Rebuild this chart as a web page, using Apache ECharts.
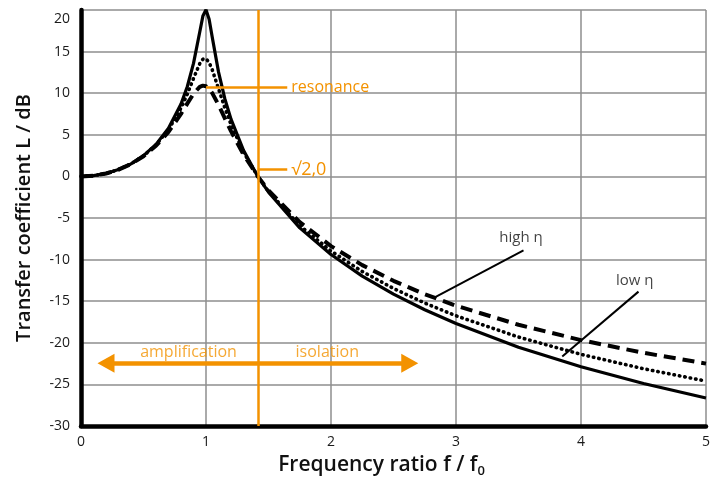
<!DOCTYPE html>
<html>
<head>
<meta charset="utf-8">
<script src="https://cdn.jsdelivr.net/npm/echarts@6/dist/echarts.min.js"></script>
<style>
  html, body { margin: 0; padding: 0; background: #fff; }
  #chart { width: 715px; height: 477px; }
</style>
</head>
<body>
<div id="chart"></div>
<script>
// frequency ratio f / f0 and transfer coefficient (dB)
const ratio = [0, 0.1, 0.2, 0.3, 0.4, 0.5, 0.6, 0.7, 0.8, 0.85, 0.9, 0.95, 0.975, 1.0, 1.025, 1.05, 1.1, 1.15, 1.2, 1.3, 1.414, 1.5, 1.75, 2, 2.25, 2.5, 2.75, 3, 3.5, 4, 4.5, 5];
const lowEta = [0, 0.09, 0.35, 0.82, 1.51, 2.49, 3.85, 5.79, 8.69, 10.78, 13.58, 17.36, 19.27, 20.04, 18.88, 16.72, 12.56, 9.37, 6.88, 3.14, 0, -1.9, -6.19, -9.39, -11.98, -14.15, -16.03, -17.69, -20.53, -22.88, -24.89, -26.64];
const midEta = [0, 0.09, 0.35, 0.82, 1.5, 2.47, 3.79, 5.62, 8.2, 9.87, 11.78, 13.56, 14.09, 14.15, 13.69, 12.82, 10.54, 8.27, 6.24, 2.93, 0, -1.81, -5.91, -8.97, -11.43, -13.47, -15.22, -16.75, -19.31, -21.39, -23.12, -24.6];
const highEta = [0, 0.09, 0.35, 0.81, 1.49, 2.43, 3.68, 5.36, 7.52, 8.75, 9.93, 10.76, 10.91, 10.83, 10.52, 10.01, 8.6, 7.01, 5.44, 2.63, 0, -1.67, -5.5, -8.38, -10.66, -12.55, -14.16, -15.54, -17.83, -19.68, -21.2, -22.5];

const xTicks = [0, 1, 2, 3, 4, 5];
const yTicks = [-30, -25, -20, -15, -10, -5, 0, 5, 10, 15, 20];

// annotation anchors (data units)
const sqrt2 = 1.414;
const resonanceLine = [[1.0, 10.7], [1.65, 10.7]];
const sqrt2Line = [[1.414, 0.8], [1.65, 0.8]];
const arrowLine = [[0.2, -22.45], [2.63, -22.45]];
const highPointer = [[3.54, -8.9], [2.83, -14.55]];
const lowPointer = [[4.46, -13.85], [3.85, -21.65]];
const noteText = ['amplification', 'isolation', 'high η', 'low η'];
const notePos = [[0.86, -21.1], [1.97, -21.1], [3.52, -7.4], [4.43, -12.5]];
const noteColor = ['#f39200', '#f39200', '#111', '#111'];

const ORANGE = '#f39200';
const FONT = 'Open Sans';

const pairs = (ys) => ratio.map((x, i) => [x, ys[i]]);

const chart = echarts.init(document.getElementById('chart'), null, { renderer: 'canvas' });

const option = {
  animation: false,
  backgroundColor: '#fff',
  grid: { left: 81, right: 9, top: 10, bottom: 51, outerBoundsMode: 'none', containLabel: false },
  xAxis: {
    type: 'value',
    min: xTicks[0],
    max: xTicks[xTicks.length - 1],
    interval: 1,
    name: 'Frequency ratio f / f{sub|0}',
    nameLocation: 'middle',
    nameGap: 26,
    nameTextStyle: {
      fontFamily: FONT, fontSize: 21, fontWeight: 600, color: '#111',
      padding: [0, 24, 0, 0],
      rich: { sub: { fontFamily: FONT, fontSize: 13, fontWeight: 600, color: '#111', verticalAlign: 'bottom', padding: [13, 0, 0, 0] } }
    },
    axisLine: { onZero: false, lineStyle: { color: '#000', width: 4.5 } },
    axisTick: { show: false },
    axisLabel: { fontFamily: FONT, fontSize: 14, color: '#1a1a1a', margin: 9 },
    splitLine: { lineStyle: { color: '#8e8e8e', width: 1.5 } }
  },
  yAxis: {
    type: 'value',
    min: yTicks[0],
    max: yTicks[yTicks.length - 1],
    interval: 5,
    name: 'Transfer coefficient L / dB',
    nameLocation: 'middle',
    nameGap: 47,
    nameTextStyle: { fontFamily: FONT, fontSize: 20, fontWeight: 600, color: '#111' },
    axisLine: { lineStyle: { color: '#000', width: 4.5 } },
    axisTick: { show: false },
    axisLabel: {
      fontFamily: FONT, fontSize: 14, color: '#1a1a1a', margin: 11,
      formatter: (v) => (v === yTicks[yTicks.length - 1] ? '{top|' + v + '}' : String(v)),
      rich: { top: { fontFamily: FONT, fontSize: 14, color: '#1a1a1a', padding: [18, 0, 0, 0] } }
    },
    splitLine: { lineStyle: { color: '#8e8e8e', width: 1.5 } }
  },
  series: [
    {
      name: 'high η', type: 'line', data: pairs(highEta), symbol: 'none', clip: false,
      lineStyle: { color: '#000', width: 4, type: [12, 7] }
    },
    {
      name: 'mid η', type: 'line', data: pairs(midEta), symbol: 'none', clip: false,
      lineStyle: { color: '#000', width: 3.6, type: [0.5, 5], cap: 'round' }
    },
    {
      name: 'low η', type: 'line', data: pairs(lowEta), symbol: 'none', clip: false,
      lineStyle: { color: '#000', width: 3.2 }
    },
    {
      name: 'notes', type: 'scatter', symbol: 'circle', symbolSize: 1, silent: true,
      itemStyle: { color: 'rgba(0,0,0,0)' },
      data: notePos.map((p, i) => ({
        value: p, name: noteText[i],
        label: { color: noteColor[i], fontSize: i < 2 ? 16 : 15 }
      })),
      label: {
        show: true, position: 'inside', formatter: (p) => p.name,
        fontFamily: FONT, fontWeight: 500
      },
      markLine: {
        silent: true, symbol: 'none', animation: false,
        label: { show: false },
        data: [
          [{ coord: [sqrt2, yTicks[0]], lineStyle: { color: ORANGE, width: 2.5, type: 'solid' } }, { coord: [sqrt2, yTicks[yTicks.length - 1]] }],
          [{ coord: resonanceLine[0], lineStyle: { color: ORANGE, width: 2.5, type: 'solid' },
             label: { show: true, position: 'end', formatter: 'resonance', color: ORANGE, fontFamily: FONT, fontSize: 16, distance: 4 } },
           { coord: resonanceLine[1] }],
          [{ coord: sqrt2Line[0], lineStyle: { color: ORANGE, width: 2.5, type: 'solid' },
             label: { show: true, position: 'end', formatter: '√2,0', color: ORANGE, fontFamily: FONT, fontSize: 18, distance: 4 } },
           { coord: sqrt2Line[1] }],
          [{ coord: arrowLine[0], symbol: 'triangle', symbolSize: [19, 17], lineStyle: { color: ORANGE, width: 4.5, type: 'solid' }, itemStyle: { color: ORANGE } },
           { coord: arrowLine[1], symbol: 'triangle', symbolSize: [19, 17], itemStyle: { color: ORANGE } }],
          [{ coord: highPointer[0], lineStyle: { color: '#000', width: 2, type: 'solid' } }, { coord: highPointer[1] }],
          [{ coord: lowPointer[0], lineStyle: { color: '#000', width: 2, type: 'solid' } }, { coord: lowPointer[1] }]
        ]
      }
    }
  ]
};

chart.setOption(option);
window.addEventListener('resize', () => chart.resize());
</script>
</body>
</html>
